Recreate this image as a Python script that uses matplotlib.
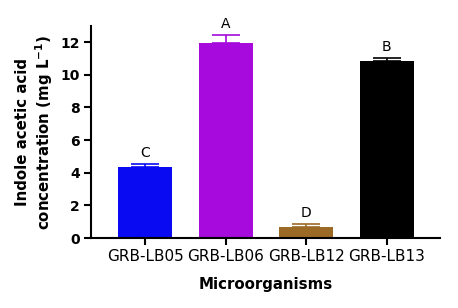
import matplotlib
matplotlib.use("Agg")
import matplotlib.pyplot as plt

categories = ["GRB-LB05", "GRB-LB06", "GRB-LB12", "GRB-LB13"]
values = [4.35, 11.98, 0.70, 10.85]
errors = [0.18, 0.45, 0.18, 0.16]
letters = ["C", "A", "D", "B"]
colors = ["#0A0AF2", "#A60ADC", "#9B6A26", "#000000"]

fig = plt.figure(figsize=(4.58, 3.08), dpi=100)
ax = fig.add_axes([0.199, 0.227, 0.762, 0.689])

x = list(range(len(categories)))
ax.bar(x, values, width=0.67, color=colors, zorder=2)
for xi, v, e, c, l in zip(x, values, errors, colors, letters):
    ax.errorbar(xi, v, yerr=[[0], [e]], ecolor=c, elinewidth=1.2, capsize=10,
                capthick=1.2, fmt="none", zorder=3)
    ax.text(xi, v + e + 0.25, l, ha="center", va="bottom", fontsize=10)

ax.set_xlim(-0.67, 3.665)
ax.set_ylim(0, 13)
ax.set_yticks([0, 2, 4, 6, 8, 10, 12])
ax.set_xticks(x)
ax.set_xticklabels(categories, fontsize=11)
for lab in ax.get_yticklabels():
    lab.set_fontweight("bold")
    lab.set_fontsize(10)
ax.spines["top"].set_visible(False)
ax.spines["right"].set_visible(False)
ax.spines["left"].set_linewidth(1.5)
ax.spines["bottom"].set_linewidth(1.5)
ax.tick_params(axis="both", direction="out", length=5, width=1.5, pad=3)
ax.set_ylabel("Indole acetic acid\nconcentration (mg L$^{\\mathbf{-1}}$)",
              fontsize=10.8, fontweight="bold", labelpad=4)
ax.set_xlabel("Microorganisms", fontsize=10.8, fontweight="bold", labelpad=9)

fig.savefig("out.png", dpi=100)
